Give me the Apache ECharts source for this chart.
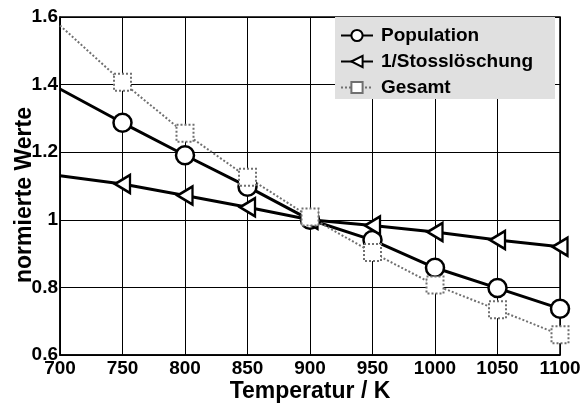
<!DOCTYPE html>
<html>
<head>
<meta charset="utf-8">
<script src="https://cdn.jsdelivr.net/npm/echarts@6/dist/echarts.min.js"></script>
<style>
  html, body { margin: 0; padding: 0; background: #fff; }
  #chart { width: 580px; height: 403px; }
</style>
</head>
<body>
<div id="chart"></div>
<script>
// Temperaturen (K) und normierte Werte
const temperatures = [700, 750, 800, 850, 900, 950, 1000, 1050, 1100];
const population   = [1.387, 1.287, 1.191, 1.098, 1.0, 0.94, 0.858, 0.798, 0.737];
const stossInv     = [1.13, 1.106, 1.072, 1.037, 1.0, 0.983, 0.964, 0.94, 0.92];
const gesamt       = [1.575, 1.407, 1.256, 1.126, 1.008, 0.903, 0.807, 0.734, 0.66];

const FONT = 'Liberation Sans, Arial, sans-serif';
const leftTriangle = 'path://M0,6 L10,0 L10,12 Z';

// erster Punkt (700 K) ohne Symbol, wie im Original
function pairs(vals) {
    return temperatures.map((t, i) => i === 0 ? { value: [t, vals[i]], symbol: 'none' } : [t, vals[i]]);
}

const chart = echarts.init(document.getElementById('chart'));
chart.setOption({
    animation: false,
    backgroundColor: '#fff',
    grid: { left: 60, right: 20, top: 17, bottom: 48, outerBoundsMode: 'none',
            show: true, borderColor: '#000', borderWidth: 1.5 },
    legend: {
        left: 335, top: 17, orient: 'vertical',
        backgroundColor: '#e0e0e0',
        padding: [9, 22, 2, 5],
        itemGap: 7, itemWidth: 32, itemHeight: 14,
        textStyle: { fontFamily: FONT, fontWeight: 'bold', fontSize: 19, color: '#000', padding: [0, 0, 0, 3] },
        data: ['Population', '1/Stosslöschung', 'Gesamt']
    },
    xAxis: {
        type: 'value', min: 700, max: 1100, interval: 50,
        name: 'Temperatur / K', nameLocation: 'middle', nameGap: 25, nameMoveOverlap: false,
        nameTextStyle: { fontFamily: FONT, fontWeight: 'bold', fontSize: 23, color: '#000' },
        axisLine: { lineStyle: { color: '#000', width: 1.5 } },
        axisTick: { show: false },
        axisLabel: { fontFamily: FONT, fontWeight: 'bold', fontSize: 19, color: '#000', margin: 4,
                     formatter: v => String(v) },
        splitLine: { show: true, lineStyle: { color: '#000', width: 1 } }
    },
    yAxis: {
        type: 'value', min: 0.6, max: 1.6, interval: 0.2,
        name: 'normierte Werte', nameLocation: 'middle', nameGap: 24, nameMoveOverlap: false,
        nameTextStyle: { fontFamily: FONT, fontWeight: 'bold', fontSize: 23, color: '#000', padding: [0, 18, 0, 0] },
        axisLine: { lineStyle: { color: '#000', width: 1.5 } },
        axisTick: { show: false },
        axisLabel: { fontFamily: FONT, fontWeight: 'bold', fontSize: 19, color: '#000', margin: 2 },
        splitLine: { show: true, lineStyle: { color: '#000', width: 1 } }
    },
    series: [
        {
            name: 'Population', type: 'line', data: pairs(population),
            symbol: 'circle', symbolSize: 18, showAllSymbol: true,
            lineStyle: { color: '#000', width: 3 },
            itemStyle: { color: '#fff', borderColor: '#000', borderWidth: 2.5 }
        },
        {
            name: '1/Stosslöschung', type: 'line', data: pairs(stossInv),
            symbol: leftTriangle, symbolSize: [15, 18], showAllSymbol: true,
            lineStyle: { color: '#000', width: 3 },
            itemStyle: { color: '#fff', borderColor: '#000', borderWidth: 2.5 }
        },
        {
            name: 'Gesamt', type: 'line', data: pairs(gesamt),
            symbol: 'rect', symbolSize: 17, showAllSymbol: true,
            lineStyle: { color: '#707070', width: 2, type: 'dotted' },
            itemStyle: { color: '#fff', borderColor: '#707070', borderWidth: 2, borderType: 'dotted' }
        }
    ]
});
</script>
</body>
</html>
